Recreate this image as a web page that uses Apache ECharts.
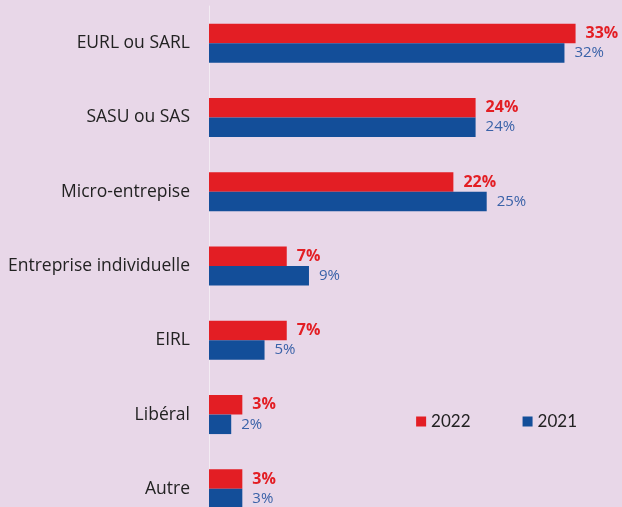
<!DOCTYPE html>
<html>
<head>
<meta charset="utf-8">
<script src="https://cdn.jsdelivr.net/npm/echarts@6/dist/echarts.min.js"></script>
<style>
  html, body { margin: 0; padding: 0; background: #e8d7e8; }
  #main { width: 622px; height: 507px; }
</style>
</head>
<body>
<div id="main"></div>
<script>
const categories = ['EURL ou SARL', 'SASU ou SAS', 'Micro-entrepise', 'Entreprise individuelle', 'EIRL', 'Libéral', 'Autre'];
const values2022 = [33, 24, 22, 7, 7, 3, 3];
const values2021 = [32, 24, 25, 9, 5, 2, 3];

const RED = '#e31e24';
const BLUE = '#134e99';
const FONT = '"Open Sans", Lato, sans-serif';

let myChart = echarts.init(document.getElementById('main'));
myChart.setOption({
    backgroundColor: '#e8d7e8',
    animation: false,
    textStyle: { fontFamily: FONT },
    legend: {
        right: 40,
        top: 408,
        itemWidth: 10,
        itemHeight: 10,
        itemGap: 52,
        icon: 'rect',
        textStyle: { fontSize: 17, color: '#222', fontFamily: 'Lato, sans-serif' },
        data: ['2022', '2021']
    },
    grid: {
        left: 209, width: 411, top: 6, height: 520,
        containLabel: false,
        outerBoundsMode: 'none'
    },
    xAxis: {
        type: 'value',
        min: 0,
        max: 37,
        show: false
    },
    yAxis: {
        type: 'category',
        inverse: true,
        data: categories,
        axisLine: { lineStyle: { color: '#f3ecf3', width: 1 } },
        axisTick: { show: false },
        axisLabel: { fontSize: 17.5, color: '#222', margin: 19, fontFamily: FONT }
    },
    series: [
        {
            name: '2022',
            type: 'bar',
            data: values2022,
            barWidth: 19.5,
            barGap: '0%',
            itemStyle: { color: RED },
            label: {
                show: true,
                position: 'right',
                distance: 10,
                formatter: '{c}%',
                color: RED,
                fontWeight: 'bold',
                fontSize: 16,
                fontFamily: FONT
            }
        },
        {
            name: '2021',
            type: 'bar',
            data: values2021,
            barWidth: 19.5,
            barGap: '0%',
            itemStyle: { color: BLUE },
            label: {
                show: true,
                position: 'right',
                distance: 10,
                formatter: '{c}%',
                color: '#3a62a8',
                fontSize: 15,
                fontFamily: FONT
            }
        }
    ]
});
</script>
</body>
</html>
